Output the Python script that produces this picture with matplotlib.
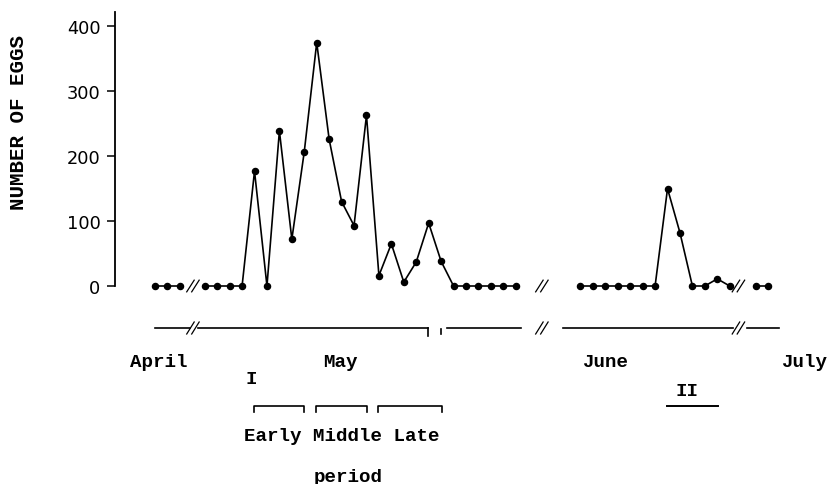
import matplotlib
matplotlib.use("Agg")
import matplotlib.pyplot as plt
from matplotlib.transforms import blended_transform_factory

# ---- data (x = sampling-day position, y = number of eggs) ----
april_x = [0, 1, 2]
april_y = [0, 0, 0]
may_x = list(range(4, 30))
may_y = [0, 0, 0, 0, 177, 0, 239, 72, 207, 375, 226, 130, 93, 263, 16, 65, 6, 37, 97, 38,
         0, 0, 0, 0, 0, 0]
june_x = [34.2 + i for i in range(13)]
june_y = [0, 0, 0, 0, 0, 0, 0, 150, 82, 0, 0, 11, 0]
july_x = [48.3, 49.25]
july_y = [0, 0]

y_ticks = [0, 100, 200, 300, 400]
month_labels = ["April", "May", "June", "July"]
month_x = [0.3, 14.9, 36.2, 52.2]
period_text = "Early Middle Late"
period_text_x = 15.0
period_brackets = [(7.96, 11.98), (12.94, 17.04), (17.93, 23.07)]
peak2_span = (41.16, 45.26)
break_x = [3.05, 31.1, 46.9]
timeline_segments = [(0.0, 2.85), (3.45, 21.95), (23.45, 29.45), (32.8, 46.45), (47.6, 50.2)]

FONT = "Liberation Mono"
FS = 13.8

fig = plt.figure(figsize=(8.31, 4.85), dpi=100)
W, H = 831, 485
px_per_unit = 12.44
x0_px = 155
ax_left_px, ax_top_px, ax_bot_px = 115, 13, 287
ax = fig.add_axes([ax_left_px / W, 1 - ax_bot_px / H, 1 - ax_left_px / W, (ax_bot_px - ax_top_px) / H])
ax.set_xlim((ax_left_px - x0_px) / px_per_unit, (W - x0_px) / px_per_unit)
ax.set_ylim(0, (ax_bot_px - ax_top_px) / 0.649)

for xs, ys in [(april_x, april_y), (may_x, may_y), (june_x, june_y), (july_x, july_y)]:
    ax.plot(xs, ys, color="black", lw=1.2, marker="o", ms=4.4, clip_on=False)

for s in ["top", "right", "bottom"]:
    ax.spines[s].set_visible(False)
ax.spines["left"].set_linewidth(1.3)
ax.set_xticks([])
ax.set_yticks(y_ticks)
ax.tick_params(axis="y", length=6, width=1.1, direction="out", pad=4.5, labelsize=12.8)
for lab in ax.get_yticklabels():
    lab.set_family("DejaVu Sans")

fig.text(19 / W, 1 - 123 / H, "NUMBER OF EGGS", rotation=90, ha="center", va="center",
         family=FONT, fontsize=15, fontweight="bold")

tr = blended_transform_factory(ax.transData, fig.transFigure)
def fy(py):
    return 1 - py / H

# break marks on data line
for bx in break_x:
    for d in (-0.2, 0.2):
        ax.plot([bx + d - 0.3, bx + d + 0.3], [-9, 9], color="black", lw=0.9, clip_on=False)

# timeline below
yl = fy(329)
for a, b in timeline_segments:
    ax.plot([a, b], [yl, yl], color="black", lw=1.2, transform=tr, clip_on=False)
for bx in break_x:
    for d in (-0.2, 0.2):
        ax.plot([bx + d - 0.3, bx + d + 0.3], [fy(335), fy(323)], color="black", lw=0.9,
                transform=tr, clip_on=False)
ax.plot([21.95, 21.95], [yl, fy(337)], color="black", lw=1.2, transform=tr, clip_on=False)
ax.plot([23.0, 23.0], [fy(330), fy(335)], color="black", lw=1.2, transform=tr, clip_on=False)

# month labels
for lab, mx in zip(month_labels, month_x):
    ax.text(mx, fy(363), lab, transform=tr, ha="center", va="center", family=FONT,
            fontsize=FS, fontweight="bold")

# period brackets
for (a, b) in period_brackets:
    ax.plot([a, a, b, b], [fy(413), fy(407), fy(407), fy(413)], color="black", lw=1.2,
            transform=tr, clip_on=False)
ax.text(period_text_x, fy(437), period_text, transform=tr, ha="center", va="center",
        family=FONT, fontsize=FS, fontweight="bold")
ax.text(15.5, fy(478), "period", transform=tr, ha="center", va="center", family=FONT,
        fontsize=FS, fontweight="bold")
ax.text(7.77, fy(380), "I", transform=tr, ha="center", va="center", family=FONT,
        fontsize=FS, fontweight="bold")
ax.text(42.74, fy(392), "II", transform=tr, ha="center", va="center", family=FONT,
        fontsize=FS, fontweight="bold")
ax.plot(list(peak2_span), [fy(407), fy(407)], color="black", lw=1.4, transform=tr, clip_on=False)

fig.savefig("out.png", dpi=100)
